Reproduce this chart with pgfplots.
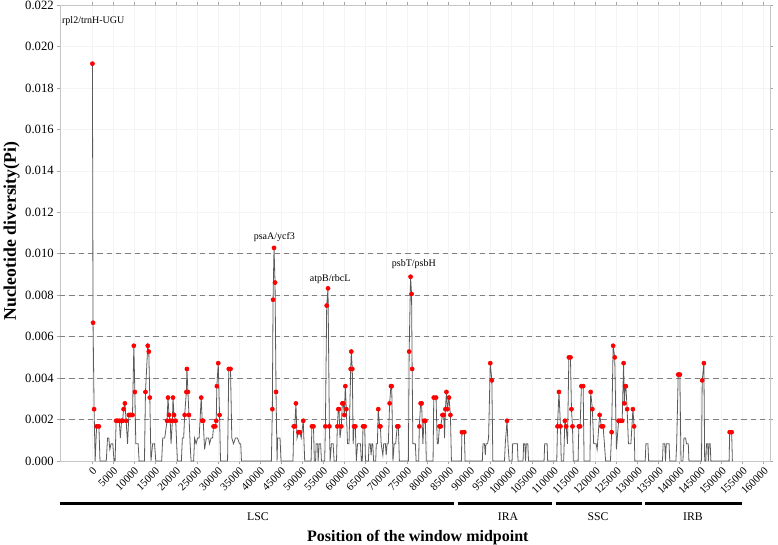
\documentclass[border=0pt]{standalone}
\usepackage{fontspec}
\setmainfont{Liberation Serif}
\usepackage{pgfplots}
\pgfplotsset{compat=1.18}
\usepackage{pgfplotstable}

\pgfplotstableread{
x y
100 0.01917
250 0.00667
500 0.00250
750 0
1100 0.00167
1650 0.00167
1900 0
3400 0
3700 0.00111
4000 0.00111
4250 0.00056
4550 0.00083
4950 0.00083
5250 0
5500 0
5750 0.00194
6050 0.00194
6500 0.00194
6750 0.00111
7050 0.00194
7290 0.00194
7530 0.00250
7830 0.00278
8140 0.00194
8470 0.00083
8780 0.00222
9020 0.00222
9260 0.00222
9650 0.00222
9970 0.00556
10210 0.00333
10440 0.00083
10990 0.00083
11230 0
12500 0
12740 0.00333
13290 0.00556
13530 0.00528
13770 0.00306
14050 0
14450 0.00083
14900 0.00083
15200 0
16600 0
16850 0.00111
17330 0.00111
17880 0.00194
18110 0.00306
18350 0.00222
18640 0.00194
18830 0.00083
19160 0.00194
19300 0.00306
19540 0.00222
19940 0.00194
20350 0
21300 0
21530 0.00111
21840 0.00111
22080 0.00222
22480 0.00333
22620 0.00444
22860 0.00333
23100 0.00222
23380 0.00083
23600 0
24210 0
24450 0.00111
24810 0.00083
25160 0.00111
25520 0.00111
26020 0.00306
26260 0.00194
26490 0.00194
26830 0.00056
27230 0.00111
27780 0.00111
28010 0.00083
28370 0.00111
28730 0.00111
28960 0.00167
29370 0.00167
29600 0.00194
29750 0.00361
30080 0.00472
30390 0.00222
30620 0
32300 0
32590 0.00444
33000 0.00444
33310 0.00111
33710 0.00083
34190 0.00111
34660 0.00111
35140 0.00083
35440 0.00083
35610 0
42740 0
42970 0.00250
43140 0.00778
43370 0.01028
43610 0.00861
43850 0.00333
44090 0
44230 0.00111
44800 0.00111
45040 0
47890 0
48070 0.00167
48310 0.00167
48590 0.00278
48850 0.00111
49210 0.00139
49540 0.00139
49850 0.00111
50330 0.00194
50680 0
52200 0
52390 0.00167
52770 0.00167
52980 0
53270 0
53400 0.00083
53760 0.00083
53880 0
54130 0.00083
54480 0.00083
54670 0
55440 0
55610 0.00167
55920 0.00750
56230 0.00833
56560 0.00167
56740 0
57040 0.00083
57450 0.00083
57690 0
58260 0
58450 0.00167
58690 0.00250
58850 0.00250
59090 0.00111
59400 0.00167
59640 0.00278
59880 0.00278
60120 0.00222
60360 0.00361
60590 0.00250
60880 0.00083
61240 0.00083
61640 0.00444
61780 0.00528
62020 0.00444
62230 0.00083
62430 0.00167
62740 0.00167
62980 0
63270 0.00083
63980 0.00083
64170 0
64400 0
64570 0.00167
64970 0.00167
65160 0
65860 0
66000 0.00083
66300 0.00083
66500 0.00028
66700 0.00083
66900 0.00083
67100 0
67600 0
67730 0.00083
68000 0.00083
68200 0.00250
68530 0.00167
68720 0.00167
68900 0.00083
69300 0.00028
69500 0.00083
69900 0.00083
70100 0.00028
70300 0.00083
70600 0.00083
70910 0.00278
71220 0.00361
71410 0.00361
71700 0
72000 0.00083
72350 0.00083
72720 0.00167
73000 0.00167
73240 0
75380 0
75570 0.00528
75900 0.00889
76140 0.00806
76280 0.00444
76450 0.00083
77040 0.00083
77230 0
77830 0
77990 0.00167
78300 0.00278
78540 0.00278
78830 0.00083
79110 0.00194
79420 0.00194
79660 0
81260 0
81430 0.00306
81970 0.00306
82260 0.00083
82500 0.00083
82780 0.00167
83090 0.00167
83500 0.00222
83810 0.00222
84000 0.00111
84210 0.00250
84450 0.00333
84690 0.00250
85060 0.00306
85400 0.00222
85640 0
88010 0
88140 0.00139
88710 0.00139
88900 0
93000 0
93160 0.00083
93520 0.00083
93710 0.00028
93870 0.00083
94250 0.00083
94490 0.00111
94890 0.00472
95270 0.00389
95510 0
98280 0
98470 0.00083
98880 0.00194
99110 0.00083
99400 0
100090 0
100230 0.00083
101350 0.00083
101510 0
102700 0
102840 0.00083
103130 0.00083
103290 0
103480 0.00083
103840 0.00083
104010 0
107710 0
107860 0.00083
108430 0.00083
108570 0
110740 0
110910 0.00167
111260 0.00333
111620 0.00167
111810 0
112380 0
112670 0.00194
112980 0.00167
113290 0.00083
113620 0.00500
114000 0.00500
114240 0.00250
114480 0.00167
114690 0
115820 0
115990 0.00167
116300 0.00167
116610 0.00361
117020 0.00361
117250 0
118650 0
118820 0.00333
119220 0.00250
119530 0.00083
120120 0.00083
120360 0.00056
120950 0.00222
121380 0.00167
121780 0.00167
122090 0.00083
122380 0
123530 0
123810 0.00139
124170 0.00556
124550 0.00500
124950 0.00056
125470 0.00194
125900 0.00194
126320 0.00194
126660 0.00472
126850 0.00278
127020 0.00361
127210 0.00361
127500 0.00250
127810 0.00083
128400 0.00083
128880 0.00250
129160 0.00167
129350 0
131810 0
131980 0.00083
132460 0.00083
132630 0
135930 0
136070 0.00083
136470 0.00083
136640 0
136830 0.00083
137500 0.00083
137660 0
139120 0
139310 0.00083
139670 0.00417
140070 0.00417
140330 0
140800 0
141040 0.00111
141420 0.00111
141660 0.00083
142070 0.00083
142230 0
145220 0
145390 0.00389
145790 0.00472
145980 0
146260 0
146410 0.00083
146700 0.00083
146860 0
147010 0.00083
147290 0.00083
147460 0
151800 0
151940 0.00139
152410 0.00139
152580 0
}\pidata

\definecolor{linegray}{RGB}{90,90,90}
\definecolor{dashgray}{RGB}{128,128,128}

\begin{document}
\begin{tikzpicture}
\useasboundingbox (-45pt,-63pt) rectangle (538.5pt,345.75pt);
\begin{axis}[
  at={(0,0)}, anchor=south west,
  scale only axis, width=532.5pt, height=342pt,
  xmin=-7625, xmax=161544, ymin=0, ymax=0.022,
  clip=false,
  xtick={0,5000,...,160000},
  ytick={0,0.002,0.004,0.006,0.008,0.010,0.012,0.014,0.016,0.018,0.020,0.022},
  scaled x ticks=false, scaled y ticks=false,
  /pgf/number format/assume math mode=true,
  xticklabel style={rotate=45, anchor=north east, font=\fontsize{8.2}{9}\selectfont, inner sep=1pt,
    /pgf/number format/fixed, /pgf/number format/precision=0, /pgf/number format/1000 sep={}},
  yticklabel style={font=\fontsize{9.5}{11}\selectfont, inner sep=2pt,
    /pgf/number format/fixed, /pgf/number format/fixed zerofill, /pgf/number format/precision=3},
  tick align=outside, major tick length=2.5pt,
  tick style={gray!70, line width=0.4pt},
  axis line style={gray!45, line width=0.5pt},
  grid=major, major grid style={gray!9, line width=0.4pt},
  xlabel={\textbf{Position of the window midpoint}},
  xlabel style={at={(axis description cs:0.504,-0.167)}, anchor=center, font=\fontsize{12}{14}\selectfont},
  ylabel={\textbf{Nucleotide diversity(Pi)}},
  ylabel style={at={(axis description cs:-0.068,0.504)}, anchor=center, font=\fontsize{13.3}{15}\selectfont},
]
\addplot[dashgray, line width=0.7pt, dash pattern=on 4pt off 3pt] coordinates {(-7625,0.002) (161544,0.002)};
\addplot[dashgray, line width=0.7pt, dash pattern=on 4pt off 3pt] coordinates {(-7625,0.004) (161544,0.004)};
\addplot[dashgray, line width=0.7pt, dash pattern=on 4pt off 3pt] coordinates {(-7625,0.006) (161544,0.006)};
\addplot[dashgray, line width=0.7pt, dash pattern=on 4pt off 3pt] coordinates {(-7625,0.008) (161544,0.008)};
\addplot[dashgray, line width=0.7pt, dash pattern=on 4pt off 3pt] coordinates {(-7625,0.010) (161544,0.010)};

\addplot[linegray, line width=0.6pt, mark=none] table[x=x,y=y]{\pidata};
\addplot[only marks, mark=*, mark size=1.55pt, red, mark options={draw=red, fill=red},
  restrict y to domain=0.0013:1] table[x=x,y=y]{\pidata};

\node[font=\fontsize{7.5}{9}\selectfont] at (axis cs:300,0.0212) {rpl2/trnH-UGU};
\node[font=\fontsize{7.5}{9}\selectfont] at (axis cs:43440,0.0108) {psaA/ycf3};
\node[font=\fontsize{7.5}{9}\selectfont] at (axis cs:56740,0.0088) {atpB/rbcL};
\node[font=\fontsize{7.5}{9}\selectfont] at (axis cs:76680,0.0095) {psbT/psbH};

\draw[line width=2.3pt] (axis cs:-7625,-0.00207) -- (axis cs:86250,-0.00207);
\draw[line width=2.3pt] (axis cs:87200,-0.00207) -- (axis cs:109600,-0.00207);
\draw[line width=2.3pt] (axis cs:110480,-0.00207) -- (axis cs:130970,-0.00207);
\draw[line width=2.3pt] (axis cs:131760,-0.00207) -- (axis cs:154870,-0.00207);
\node[font=\fontsize{8.8}{10}\selectfont] at (axis cs:39550,-0.0027) {LSC};
\node[font=\fontsize{8.8}{10}\selectfont] at (axis cs:99120,-0.0027) {IRA};
\node[font=\fontsize{8.8}{10}\selectfont] at (axis cs:120560,-0.0027) {SSC};
\node[font=\fontsize{8.8}{10}\selectfont] at (axis cs:143200,-0.0027) {IRB};
\end{axis}
\end{tikzpicture}
\end{document}
